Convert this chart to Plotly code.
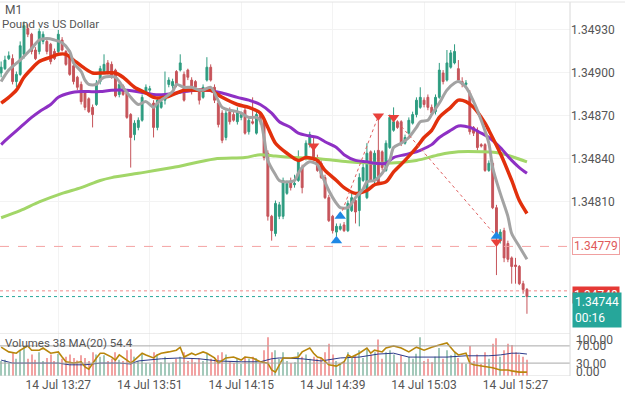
import pandas as pd
import plotly.graph_objects as go

# ---------------- data ----------------
first_bar = "2023-07-14 13:12"
n_bars = 139
times = pd.date_range(first_bar, periods=n_bars, freq="min")

opens = [1.34900, 1.34903, 1.34910, 1.34910, 1.34894, 1.34899, 1.34913, 1.34931, 1.34927, 1.34916,
         1.34915, 1.34922, 1.34922, 1.34920, 1.34915, 1.34915, 1.34923, 1.34915, 1.34912, 1.34905,
         1.34897, 1.34892, 1.34886, 1.34882, 1.34876, 1.34878, 1.34894, 1.34901, 1.34907, 1.34906,
         1.34902, 1.34885, 1.34891, 1.34886, 1.34871, 1.34857, 1.34862, 1.34867, 1.34886, 1.34888,
         1.34879, 1.34862, 1.34876, 1.34881, 1.34892, 1.34891, 1.34901, 1.34902, 1.34899, 1.34902,
         1.34895, 1.34894, 1.34887, 1.34883, 1.34895, 1.34904, 1.34890, 1.34879, 1.34872, 1.34855,
         1.34873, 1.34871, 1.34866, 1.34869, 1.34874, 1.34859, 1.34866, 1.34858, 1.34871, 1.34867,
         1.34844, 1.34800, 1.34788, 1.34800, 1.34800, 1.34816, 1.34824, 1.34822, 1.34825, 1.34834,
         1.34841, 1.34850, 1.34848, 1.34841, 1.34837, 1.34827, 1.34813, 1.34800, 1.34789, 1.34791,
         1.34794, 1.34790, 1.34804, 1.34811, 1.34804, 1.34825, 1.34813, 1.34845, 1.34825, 1.34846,
         1.34845, 1.34832, 1.34848, 1.34860, 1.34866, 1.34866, 1.34851, 1.34858, 1.34865, 1.34871,
         1.34876, 1.34881, 1.34883, 1.34876, 1.34873, 1.34883, 1.34900, 1.34895, 1.34904, 1.34907,
         1.34903, 1.34894, 1.34892, 1.34886, 1.34862, 1.34860, 1.34850, 1.34850, 1.34832, 1.34837,
         1.34806, 1.34783, 1.34790, 1.34781, 1.34771, 1.34766, 1.34765, 1.34753, 1.34749]

highs = [1.34908, 1.34912, 1.34915, 1.34913, 1.34901, 1.34922, 1.34936, 1.34934, 1.34928, 1.34918,
         1.34931, 1.34929, 1.34924, 1.34921, 1.34917, 1.34930, 1.34925, 1.34916, 1.34914, 1.34907,
         1.34898, 1.34894, 1.34888, 1.34883, 1.34878, 1.34895, 1.34905, 1.34913, 1.34909, 1.34908,
         1.34903, 1.34894, 1.34892, 1.34888, 1.34872, 1.34867, 1.34869, 1.34885, 1.34892, 1.34891,
         1.34881, 1.34883, 1.34883, 1.34901, 1.34897, 1.34896, 1.34902, 1.34913, 1.34901, 1.34903,
         1.34897, 1.34895, 1.34888, 1.34892, 1.34911, 1.34906, 1.34892, 1.34881, 1.34874, 1.34874,
         1.34876, 1.34873, 1.34876, 1.34873, 1.34876, 1.34869, 1.34883, 1.34873, 1.34873, 1.34869,
         1.34846, 1.34801, 1.34811, 1.34810, 1.34827, 1.34825, 1.34827, 1.34829, 1.34846, 1.34836,
         1.34853, 1.34859, 1.34855, 1.34843, 1.34839, 1.34829, 1.34815, 1.34801, 1.34795, 1.34795,
         1.34796, 1.34811, 1.34816, 1.34813, 1.34830, 1.34837, 1.34851, 1.34846, 1.34846, 1.34867,
         1.34846, 1.34853, 1.34871, 1.34876, 1.34867, 1.34867, 1.34857, 1.34869, 1.34873, 1.34883,
         1.34890, 1.34883, 1.34885, 1.34878, 1.34885, 1.34907, 1.34902, 1.34916, 1.34916, 1.34920,
         1.34909, 1.34897, 1.34895, 1.34888, 1.34863, 1.34862, 1.34851, 1.34851, 1.34839, 1.34839,
         1.34808, 1.34791, 1.34792, 1.34783, 1.34772, 1.34771, 1.34766, 1.34755, 1.34750]

lows = [1.34897, 1.34902, 1.34909, 1.34892, 1.34890, 1.34898, 1.34910, 1.34925, 1.34913, 1.34909,
        1.34913, 1.34920, 1.34913, 1.34906, 1.34909, 1.34913, 1.34915, 1.34905, 1.34898, 1.34892,
        1.34888, 1.34878, 1.34874, 1.34872, 1.34862, 1.34877, 1.34892, 1.34900, 1.34899, 1.34896,
        1.34883, 1.34883, 1.34884, 1.34868, 1.34834, 1.34853, 1.34860, 1.34866, 1.34885, 1.34886,
        1.34855, 1.34860, 1.34875, 1.34878, 1.34890, 1.34889, 1.34890, 1.34901, 1.34880, 1.34895,
        1.34885, 1.34887, 1.34878, 1.34882, 1.34894, 1.34894, 1.34879, 1.34862, 1.34851, 1.34853,
        1.34864, 1.34866, 1.34864, 1.34867, 1.34857, 1.34857, 1.34864, 1.34857, 1.34864, 1.34839,
        1.34797, 1.34783, 1.34786, 1.34798, 1.34798, 1.34815, 1.34818, 1.34820, 1.34824, 1.34816,
        1.34839, 1.34848, 1.34839, 1.34831, 1.34826, 1.34812, 1.34796, 1.34788, 1.34786, 1.34790,
        1.34789, 1.34789, 1.34803, 1.34795, 1.34793, 1.34824, 1.34812, 1.34824, 1.34823, 1.34822,
        1.34832, 1.34831, 1.34847, 1.34859, 1.34861, 1.34849, 1.34850, 1.34857, 1.34864, 1.34869,
        1.34875, 1.34876, 1.34874, 1.34871, 1.34871, 1.34882, 1.34892, 1.34894, 1.34903, 1.34906,
        1.34894, 1.34890, 1.34890, 1.34857, 1.34856, 1.34846, 1.34848, 1.34831, 1.34831, 1.34805,
        1.34759, 1.34781, 1.34768, 1.34768, 1.34753, 1.34753, 1.34752, 1.34746, 1.34732]

closes = [1.34904, 1.34909, 1.34912, 1.34894, 1.34899, 1.34919, 1.34933, 1.34927, 1.34915, 1.34910,
          1.34929, 1.34927, 1.34915, 1.34908, 1.34910, 1.34927, 1.34916, 1.34906, 1.34899, 1.34894,
          1.34890, 1.34880, 1.34876, 1.34873, 1.34871, 1.34893, 1.34903, 1.34906, 1.34901, 1.34897,
          1.34884, 1.34892, 1.34885, 1.34869, 1.34855, 1.34865, 1.34867, 1.34883, 1.34890, 1.34889,
          1.34862, 1.34881, 1.34880, 1.34882, 1.34895, 1.34894, 1.34892, 1.34907, 1.34881, 1.34897,
          1.34890, 1.34890, 1.34881, 1.34890, 1.34904, 1.34895, 1.34881, 1.34864, 1.34853, 1.34872,
          1.34866, 1.34867, 1.34873, 1.34871, 1.34858, 1.34867, 1.34865, 1.34871, 1.34866, 1.34841,
          1.34800, 1.34790, 1.34809, 1.34808, 1.34825, 1.34823, 1.34820, 1.34823, 1.34839, 1.34820,
          1.34851, 1.34857, 1.34841, 1.34832, 1.34827, 1.34813, 1.34797, 1.34790, 1.34793, 1.34793,
          1.34790, 1.34809, 1.34813, 1.34803, 1.34827, 1.34834, 1.34844, 1.34825, 1.34844, 1.34823,
          1.34834, 1.34851, 1.34869, 1.34866, 1.34862, 1.34851, 1.34855, 1.34867, 1.34871, 1.34881,
          1.34883, 1.34878, 1.34876, 1.34872, 1.34883, 1.34902, 1.34894, 1.34907, 1.34914, 1.34915,
          1.34895, 1.34892, 1.34893, 1.34859, 1.34858, 1.34848, 1.34849, 1.34832, 1.34837, 1.34806,
          1.34785, 1.34789, 1.34771, 1.34770, 1.34765, 1.34765, 1.34753, 1.34749, 1.34744]

volumes = [35, 38, 30, 55, 40, 60, 70, 40, 50, 38,
           55, 35, 42, 50, 35, 52, 40, 45, 50, 42,
           36, 48, 42, 35, 55, 50, 45, 48, 35, 40,
           55, 38, 35, 60, 62, 45, 35, 52, 30, 28,
           55, 50, 32, 45, 30, 32, 40, 45, 55, 35,
           40, 32, 42, 35, 52, 40, 38, 48, 55, 50,
           35, 30, 42, 28, 45, 40, 45, 42, 30, 60,
           90, 55, 60, 40, 55, 35, 30, 32, 55, 45,
           50, 40, 45, 40, 42, 55, 75, 50, 35, 30,
           32, 55, 45, 48, 60, 42, 65, 50, 55, 85,
           40, 55, 60, 50, 30, 48, 32, 45, 40, 52,
           90, 35, 40, 32, 45, 65, 40, 60, 48, 55,
           42, 30, 28, 70, 35, 50, 28, 55, 40, 75,
           88, 45, 60, 75, 72, 55, 50, 45, 38]

# moving averages (bar index -> value)
gray_idx = [0, 2, 5, 8, 10, 12, 14, 16, 18, 19, 21, 22, 23, 25, 26, 27, 30, 32, 34, 36,
            38, 40, 41, 43, 45, 46, 48, 50, 52, 53, 55, 58, 60, 62, 63, 65, 67, 68, 69, 70,
            72, 73, 75, 77, 78, 79, 81, 83, 84, 86, 88, 89, 91, 93, 95, 96, 98, 100, 102, 103,
            105, 107, 109, 110, 112, 113, 115, 117, 119, 120, 122, 124, 126, 128, 129, 131, 133, 134, 136, 138]
gray_val = [1.34894, 1.34902, 1.34909, 1.34917, 1.34923, 1.34924, 1.34923, 1.34921, 1.34915, 1.34907,
            1.34901, 1.34895, 1.34892, 1.34892, 1.34895, 1.34897, 1.34897, 1.34890, 1.34883, 1.34878,
            1.34880, 1.34876, 1.34879, 1.34883, 1.34887, 1.34892, 1.34890, 1.34890, 1.34888, 1.34888,
            1.34890, 1.34876, 1.34874, 1.34873, 1.34872, 1.34869, 1.34869, 1.34867, 1.34855, 1.34839,
            1.34829, 1.34825, 1.34824, 1.34825, 1.34830, 1.34834, 1.34838, 1.34836, 1.34830, 1.34818,
            1.34809, 1.34806, 1.34806, 1.34813, 1.34819, 1.34824, 1.34825, 1.34830, 1.34839, 1.34848,
            1.34851, 1.34855, 1.34862, 1.34866, 1.34867, 1.34871, 1.34879, 1.34888, 1.34893, 1.34894,
            1.34890, 1.34880, 1.34867, 1.34851, 1.34834, 1.34816, 1.34800, 1.34788, 1.34779, 1.34770]

red_idx = [0, 2, 4, 6, 8, 10, 13, 15, 17, 19, 22, 24, 27, 30, 32, 35, 38, 40, 43, 46,
           48, 51, 53, 55, 58, 62, 65, 68, 70, 72, 75, 78, 80, 83, 85, 88, 90, 93, 96, 98,
           101, 103, 106, 109, 111, 113, 115, 118, 120, 122, 124, 127, 128, 131, 134, 136, 138]
red_val = [1.34879, 1.34883, 1.34888, 1.34897, 1.34903, 1.34908, 1.34911, 1.34913, 1.34913, 1.34909,
           1.34903, 1.34900, 1.34900, 1.34900, 1.34897, 1.34890, 1.34886, 1.34883, 1.34883, 1.34886,
           1.34888, 1.34888, 1.34888, 1.34888, 1.34883, 1.34878, 1.34876, 1.34872, 1.34862, 1.34851,
           1.34844, 1.34839, 1.34841, 1.34839, 1.34832, 1.34825, 1.34820, 1.34816, 1.34818, 1.34822,
           1.34824, 1.34831, 1.34839, 1.34848, 1.34855, 1.34860, 1.34869, 1.34876, 1.34881, 1.34880,
           1.34876, 1.34865, 1.34860, 1.34844, 1.34825, 1.34811, 1.34802]

purple_idx = [0, 2, 5, 8, 10, 13, 15, 18, 21, 23, 26, 29, 33, 38, 40, 43, 46, 48, 51, 54,
              58, 62, 65, 68, 71, 73, 76, 78, 81, 83, 85, 88, 90, 93, 96, 98, 101, 103, 106, 109,
              110, 113, 115, 118, 120, 123, 126, 128, 131, 134, 136, 138]
purple_val = [1.34850, 1.34855, 1.34862, 1.34869, 1.34873, 1.34878, 1.34883, 1.34886, 1.34887, 1.34887,
              1.34887, 1.34888, 1.34888, 1.34886, 1.34885, 1.34885, 1.34886, 1.34887, 1.34888, 1.34888,
              1.34886, 1.34883, 1.34881, 1.34878, 1.34872, 1.34866, 1.34862, 1.34858, 1.34856, 1.34855,
              1.34852, 1.34848, 1.34843, 1.34839, 1.34838, 1.34837, 1.34837, 1.34841, 1.34843, 1.34845,
              1.34846, 1.34850, 1.34855, 1.34860, 1.34863, 1.34862, 1.34858, 1.34855, 1.34848, 1.34839,
              1.34834, 1.34830]

green_idx = [0, 5, 10, 16, 21, 26, 29, 36, 45, 56, 64, 68, 72, 77, 84, 91, 100, 109, 115, 120, 126, 131, 138]
green_val = [1.34799, 1.34804, 1.34810, 1.34816, 1.34820, 1.34825, 1.34827, 1.34830, 1.34834, 1.34840,
             1.34841, 1.34843, 1.34842, 1.34841, 1.34840, 1.34838, 1.34837, 1.34839, 1.34843, 1.34845,
             1.34845, 1.34844, 1.34838]

# lower panel oscillator lines (0..100 scale)
orange_idx = [0, 2, 4, 5, 7, 8, 10, 11, 13, 15, 16, 17, 19, 21, 22, 23, 25, 26, 27, 29,
              30, 31, 33, 34, 35, 37, 38, 40, 41, 42, 44, 46, 47, 48, 50, 51, 53, 54, 56, 57,
              59, 61, 63, 64, 66, 68, 70, 71, 72, 73, 74, 76, 78, 79, 81, 82, 83, 84, 86, 88,
              90, 91, 92, 94, 96, 97, 98, 100, 101, 103, 105, 107, 109, 111, 113, 115, 117, 119, 120, 122,
              123, 124, 126, 128, 129, 131, 133, 134, 136, 138]
orange_val = [67, 56, 53, 60, 70, 60, 60, 65, 53, 56, 44, 33, 30, 33, 21, 16, 42, 53, 53, 44,
              37, 49, 37, 30, 37, 53, 49, 42, 49, 53, 56, 60, 67, 44, 53, 49, 56, 53, 42, 30,
              42, 44, 37, 44, 42, 33, 30, 14, 9, 26, 42, 42, 44, 56, 65, 53, 44, 42, 26, 23,
              33, 49, 44, 53, 65, 53, 60, 56, 65, 70, 65, 56, 67, 60, 67, 72, 77, 56, 49, 53,
              30, 26, 23, 21, 19, 14, 14, 12, 9, 9]

blue_idx = [0, 3, 8, 15, 18, 22, 26, 31, 34, 36, 42, 47, 52, 57, 63, 68, 71, 73, 79, 84,
            89, 94, 99, 103, 107, 112, 117, 122, 128, 131, 134, 136, 138]
blue_val = [37, 30, 30, 30, 26, 26, 30, 30, 28, 35, 40, 42, 40, 35, 33, 33, 40, 42, 40, 35,
            42, 44, 51, 53, 44, 44, 44, 47, 47, 49, 53, 53, 51]

# trade markers
sell_idx = [82, 99, 103, 130]
sell_price = [1.34849, 1.34870, 1.34869, 1.34782]
buy_idx = [88, 89, 130]
buy_price = [1.34783, 1.34800, 1.34786]
trade_lines = [((89, 1.34800), (99, 1.34870)), ((103, 1.34869), (130, 1.34786))]

level_price = 1.34779
ask_price = 1.34748
bid_price = 1.34744
price_ticks = [1.34810, 1.34840, 1.34870, 1.34900, 1.34930]
time_ticks = ["2023-07-14 13:27", "2023-07-14 13:51", "2023-07-14 14:15",
              "2023-07-14 14:39", "2023-07-14 15:03", "2023-07-14 15:27"]

# ---------------- styling ----------------
UP = "#2e9c80"
DN = "#c6545a"
TXT = "#555555"
FONT = "Roboto"


def at(idx):
    return [times[i] for i in idx]


fig = go.Figure()

vol_colors = ["#a3c9ba" if c >= o else "#f2a2a2" for o, c in zip(opens, closes)]
fig.add_trace(go.Bar(x=times, y=volumes, yaxis="y2", width=16000,
                     marker=dict(color=vol_colors, line=dict(width=0)), hoverinfo="skip"))

fig.add_trace(go.Candlestick(
    x=times, open=opens, high=highs, low=lows, close=closes, yaxis="y",
    increasing=dict(line=dict(color=UP, width=1), fillcolor=UP),
    decreasing=dict(line=dict(color=DN, width=1), fillcolor=DN),
    whiskerwidth=0))

for idx, val, col, w in [(green_idx, green_val, "#a2d668", 3),
                         (purple_idx, purple_val, "#8e30c4", 3),
                         (red_idx, red_val, "#e2300c", 3.5),
                         (gray_idx, gray_val, "#a3a3a3", 3)]:
    fig.add_trace(go.Scatter(x=at(idx), y=val, mode="lines", yaxis="y",
                             line=dict(color=col, width=w, shape="spline", smoothing=0.8),
                             hoverinfo="skip"))

for (i0, p0), (i1, p1) in trade_lines:
    fig.add_trace(go.Scatter(x=[times[i0], times[i1]], y=[p0, p1], mode="lines", yaxis="y",
                             line=dict(color="#e06060", width=1, dash="dot"), hoverinfo="skip"))

fig.add_trace(go.Scatter(x=at(sell_idx), y=sell_price, mode="markers", yaxis="y",
                         marker=dict(symbol="triangle-down", size=10, color="#e8403a",
                                     line=dict(width=0))))
fig.add_trace(go.Scatter(x=at(buy_idx), y=buy_price, mode="markers", yaxis="y",
                         marker=dict(symbol="triangle-up", size=10, color="#1e88e5",
                                     line=dict(width=0))))

fig.add_trace(go.Scatter(x=at(blue_idx), y=blue_val, mode="lines", yaxis="y2",
                         line=dict(color="#2b3a8a", width=1), hoverinfo="skip"))
fig.add_trace(go.Scatter(x=at(orange_idx), y=orange_val, mode="lines", yaxis="y2",
                         line=dict(color="#b8860b", width=1.6), hoverinfo="skip"))

x_start = times[0] - pd.Timedelta(seconds=18)
x_end = times[0] + pd.Timedelta(minutes=149.3)

shapes = [
    dict(type="line", xref="paper", yref="y", x0=0, x1=1, y0=level_price, y1=level_price,
         line=dict(color="#f4a3a3", width=1, dash="dash")),
    dict(type="line", xref="paper", yref="y", x0=0, x1=1, y0=ask_price, y1=ask_price,
         line=dict(color="#f08a8a", width=1, dash="dot")),
    dict(type="line", xref="paper", yref="y", x0=0, x1=1, y0=bid_price, y1=bid_price,
         line=dict(color="#26a69a", width=1, dash="dot")),
    dict(type="line", xref="paper", yref="y2", x0=0, x1=1, y0=100, y1=100,
         line=dict(color="#d8d8d8", width=1)),
    dict(type="line", xref="paper", yref="y2", x0=0, x1=1, y0=70, y1=70,
         line=dict(color="#a8a8a8", width=1)),
    dict(type="line", xref="paper", yref="y2", x0=0, x1=1, y0=30, y1=30,
         line=dict(color="#a8a8a8", width=1)),
    dict(type="line", xref="paper", yref="y2", x0=0, x1=1, y0=0, y1=0,
         line=dict(color="#d8d8d8", width=1)),
    dict(type="line", xref="paper", yref="paper", x0=1, x1=1, y0=0, y1=1,
         line=dict(color="#d8d8d8", width=1)),
    dict(type="line", xref="paper", yref="paper", x0=0, x1=1.1, y0=1, y1=1,
         line=dict(color="#e4e4e4", width=1)),
]

ann = [
    dict(text="M1", xref="paper", yref="paper", x=0, xshift=3, y=0.9786, xanchor="left",
         yanchor="middle", showarrow=False, font=dict(size=12, color=TXT, family=FONT)),
    dict(text="Pound vs US Dollar", xref="paper", yref="paper", x=0, y=0.941, xanchor="left",
         yanchor="middle", showarrow=False, font=dict(size=11.5, color=TXT, family=FONT)),
    dict(text="Volumes 38 MA(20) 54.4", xref="paper", yref="paper", x=0, xshift=3, y=0.0882,
         xanchor="left", yanchor="middle", showarrow=False,
         font=dict(size=11.5, color=TXT, family=FONT)),
    dict(text="100.00", xref="paper", yref="paper", x=1, xshift=4, y=0.0963, xanchor="left",
         yanchor="middle", showarrow=False, font=dict(size=12, color=TXT, family=FONT)),
    dict(text="70.00", xref="paper", yref="paper", x=1, xshift=4, y=0.0802, xanchor="left",
         yanchor="middle", showarrow=False, font=dict(size=12, color=TXT, family=FONT)),
    dict(text="30.00", xref="paper", yref="paper", x=1, xshift=4, y=0.0321, xanchor="left",
         yanchor="middle", showarrow=False, font=dict(size=12, color=TXT, family=FONT)),
    dict(text="0.00", xref="paper", yref="paper", x=1, xshift=4, y=0.0107, xanchor="left",
         yanchor="middle", showarrow=False, font=dict(size=12, color=TXT, family=FONT)),
    dict(text=f"{level_price:.5f}", xref="paper", yref="y", x=1, xshift=2, y=level_price,
         xanchor="left", yanchor="middle", showarrow=False, bgcolor="white",
         bordercolor="#f0a0a0", borderwidth=1, borderpad=1,
         font=dict(size=12, color="#e05a5a", family=FONT)),
    dict(text=f"{ask_price:.5f}", xref="paper", yref="y", x=1, xshift=2, y=ask_price, yshift=5,
         xanchor="left", yanchor="top", showarrow=False, bgcolor="#e53935",
         borderpad=1, font=dict(size=12, color="white", family=FONT)),
    dict(text=f"{bid_price:.5f}<br>00:16", xref="paper", yref="y", x=1, xshift=2, y=bid_price,
         yshift=5, xanchor="left", yanchor="top", showarrow=False, bgcolor="#26a69a",
         borderpad=2, align="left", font=dict(size=12, color="white", family=FONT)),
]

fig.update_layout(
    width=625, height=393,
    margin=dict(l=0, r=55, t=2, b=17),
    paper_bgcolor="white", plot_bgcolor="white",
    showlegend=False,
    font=dict(family=FONT, size=12, color=TXT),
    xaxis=dict(domain=[0, 1], anchor="y2", range=[x_start, x_end],
               rangeslider=dict(visible=False), type="date",
               tickvals=time_ticks, tickformat="%d %b %H:%M",
               showgrid=True, gridcolor="#f3f3f3", zeroline=False, showline=False,
               ticks="", tickfont=dict(size=12, color=TXT, family=FONT)),
    yaxis=dict(domain=[0.115, 1], anchor="x", side="right",
               range=[1.347186, 1.349495], tickvals=price_ticks, tickformat=".5f",
               showgrid=True, gridcolor="#f3f3f3", zeroline=False, ticks="",
               tickfont=dict(size=12, color=TXT, family=FONT)),
    yaxis2=dict(domain=[0, 0.115], anchor="x", range=[0, 100], visible=False),
    shapes=shapes, annotations=ann,
)

fig.write_html("out.html")
